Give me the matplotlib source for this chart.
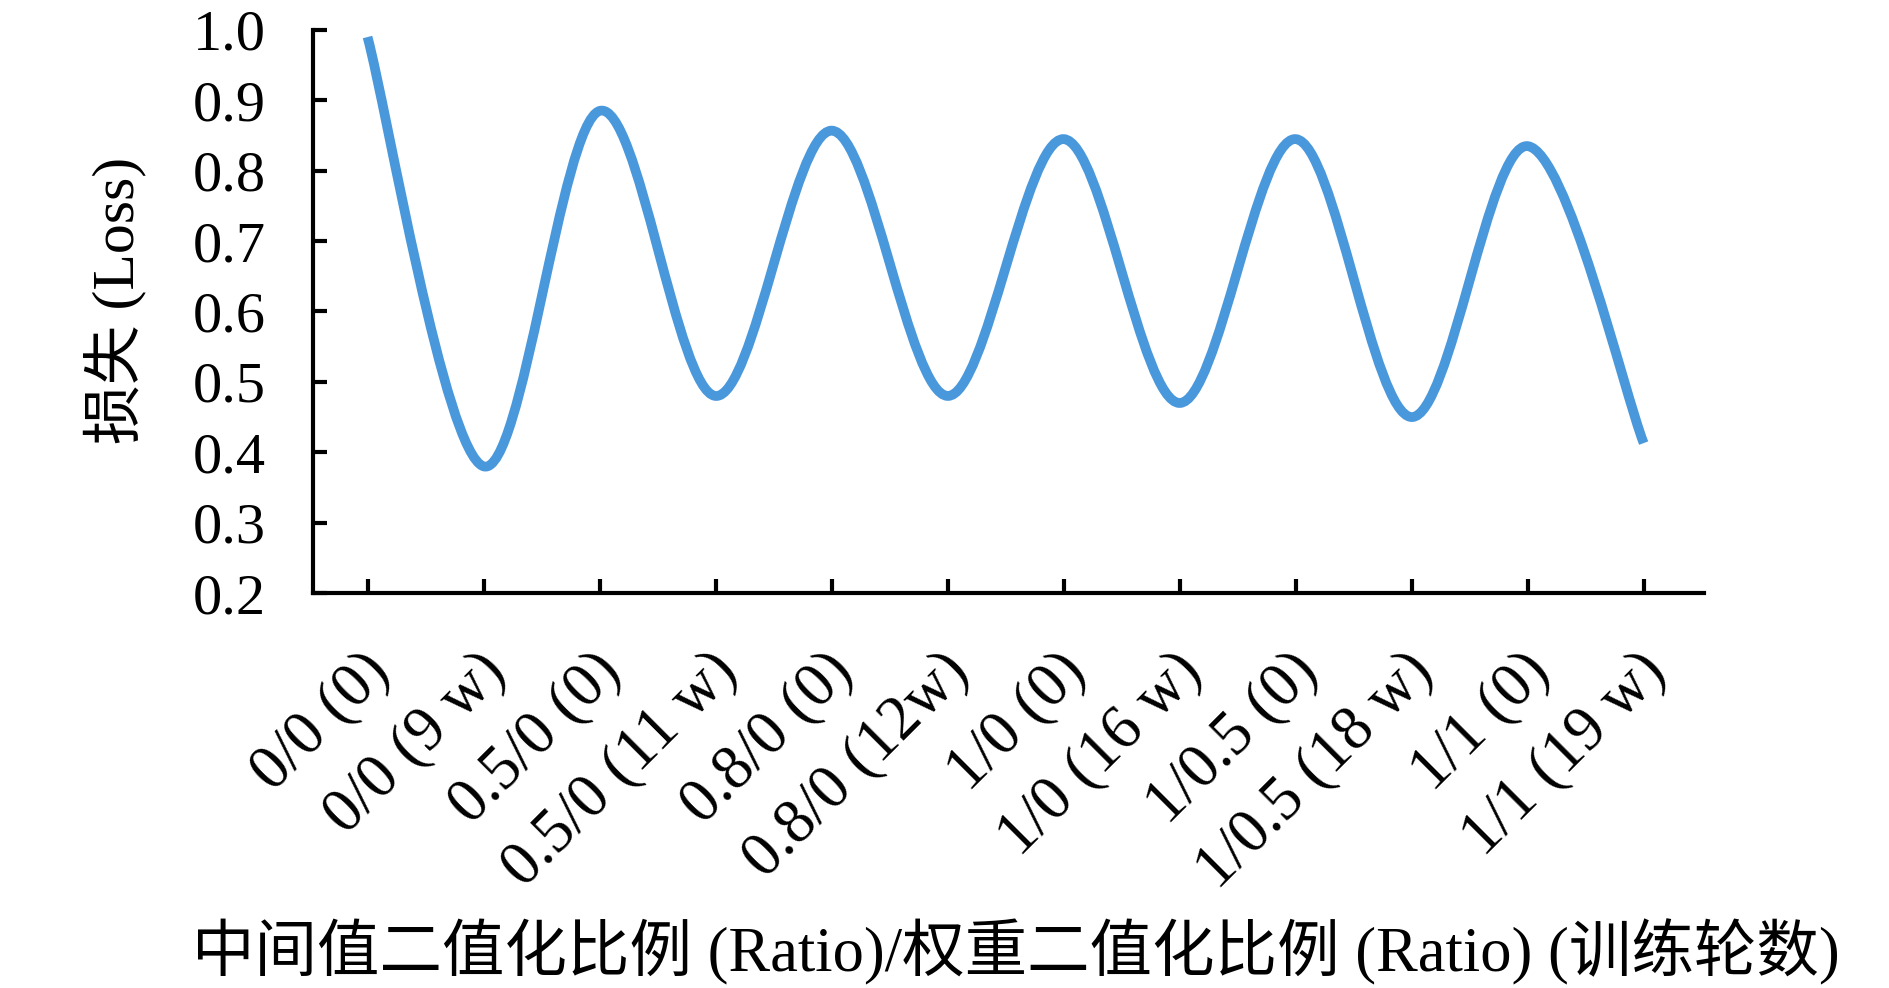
import matplotlib
matplotlib.use("Agg")
import matplotlib.pyplot as plt
from matplotlib.path import Path
from matplotlib.patches import PathPatch
from matplotlib.transforms import ScaledTranslation
import numpy as np

# data
categories = ["0/0 (0)", "0/0 (9 w)", "0.5/0 (0)", "0.5/0 (11 w)",
              "0.8/0 (0)", "0.8/0 (12w)", "1/0 (0)", "1/0 (16 w)",
              "1/0.5 (0)", "1/0.5 (18 w)", "1/1 (0)", "1/1 (19 w)"]
loss = [0.99, 0.38, 0.885, 0.48, 0.857, 0.48, 0.845, 0.47, 0.845, 0.45, 0.835, 0.413]
y_ticks = [0.2, 0.3, 0.4, 0.5, 0.6, 0.7, 0.8, 0.9, 1.0]

fonts = ['Liberation Serif', 'Noto Sans CJK SC', 'DejaVu Sans']
plt.rcParams['font.family'] = fonts

W, H = 1890, 988
fig = plt.figure(figsize=(W / 100, H / 100), dpi=100)
ax = fig.add_axes([313 / W, 1 - 593 / H, (1704 - 313) / W, (593 - 30) / H])

# smoothed line (like the spreadsheet "smooth line" option): cubic bezier through the points
xs = np.arange(len(loss), dtype=float)
ys = np.array(loss)
n = len(xs)
verts = [(xs[0], ys[0])]
codes = [Path.MOVETO]
for i in range(n - 1):
    x0, y0 = xs[max(i - 1, 0)], ys[max(i - 1, 0)]
    x1, y1 = xs[i], ys[i]
    x2, y2 = xs[i + 1], ys[i + 1]
    x3, y3 = xs[min(i + 2, n - 1)], ys[min(i + 2, n - 1)]
    c1 = (x1 + (x2 - x0) / 6, y1 + (y2 - y0) / 6)
    c2 = (x2 - (x3 - x1) / 6, y2 - (y3 - y1) / 6)
    verts += [c1, c2, (x2, y2)]
    codes += [Path.CURVE4, Path.CURVE4, Path.CURVE4]
curve = PathPatch(Path(verts, codes), facecolor='none', edgecolor='#4A98DC',
                  lw=7, capstyle='butt', joinstyle='round', zorder=3)
ax.add_patch(curve)

ax.set_xlim(-0.47, 11.52)
ax.set_ylim(0.2, 1.0)
ax.set_yticks(y_ticks)
ax.set_yticklabels([f"{v:.1f}" for v in y_ticks])
ax.set_xticks(xs)
ax.set_xticklabels(categories, rotation=45, ha='right', va='center',
                   rotation_mode='anchor')

for s in ['top', 'right']:
    ax.spines[s].set_visible(False)
for s in ['left', 'bottom']:
    ax.spines[s].set_linewidth(3)
    ax.spines[s].set_color('black')

ax.tick_params(axis='both', direction='in', length=10, width=3, labelsize=42,
               colors='black')
ax.tick_params(axis='y', pad=34)
ax.tick_params(axis='x', pad=50, labelsize=45)

# nudge the slanted category labels a little to the right
shift = ScaledTranslation(13 / 100, 0, fig.dpi_scale_trans)
for lab in ax.get_xticklabels():
    lab.set_transform(lab.get_transform() + shift)

fig.text(115 / W, 1 - 300 / H, "损失 (Loss)", rotation=90, ha='center', va='center',
         fontsize=43, family=fonts)
fig.text(1016 / W, 1 - 952 / H, "中间值二值化比例 (Ratio)/权重二值化比例 (Ratio) (训练轮数)",
         ha='center', va='center', fontsize=45, family=fonts)

fig.savefig("out.png", dpi=100)
